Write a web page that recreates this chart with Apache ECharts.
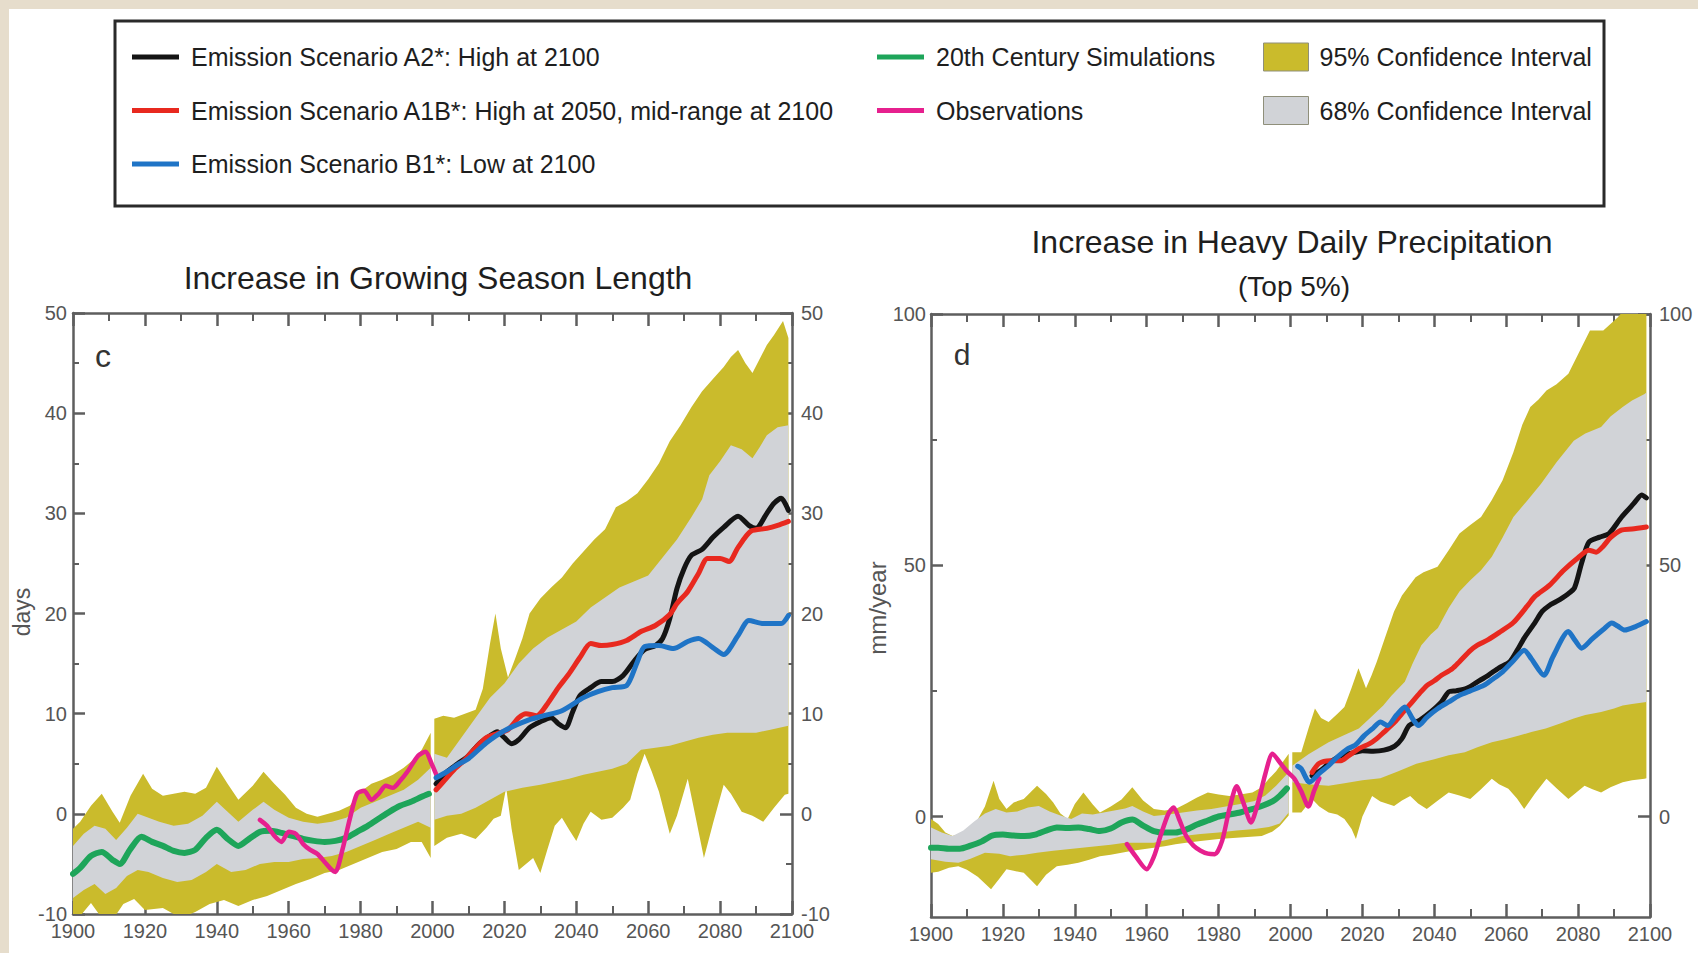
<!DOCTYPE html>
<html>
<head>
<meta charset="utf-8">
<title>Growing Season Length and Heavy Daily Precipitation</title>
<script src="https://cdn.jsdelivr.net/npm/echarts@6/dist/echarts.min.js"></script>
<style>
  html, body { margin: 0; padding: 0; background: #e6ddcc; }
  #chart { width: 1698px; height: 953px; }
</style>
</head>
<body>
<div id="chart"></div>
<script>
// ---------- Panel c: growing season length (days) ----------
const cSim20 = [[1900,-6.0],[1902,-5.4],[1905,-4.2],[1908,-3.8],[1911,-4.6],[1913,-5.0],[1916,-3.5],[1919,-2.3],[1922,-2.8],[1925,-3.2],[1928,-3.7],[1931,-3.9],[1934,-3.6],[1937,-2.4],[1940,-1.6],[1943,-2.5],[1946,-3.2],[1949,-2.5],[1952,-1.8],[1955,-1.7],[1958,-1.9],[1961,-2.2],[1964,-2.5],[1967,-2.7],[1970,-2.8],[1973,-2.7],[1976,-2.4],[1979,-1.8],[1982,-1.2],[1985,-0.5],[1988,0.2],[1991,0.8],[1994,1.2],[1997,1.7],[1999,2.0]];
const cObs = [[1952,-0.6],[1954,-1.2],[1956,-2.2],[1958,-2.8],[1960,-1.8],[1962,-2.0],[1964,-3.0],[1966,-3.6],[1968,-4.0],[1970,-4.8],[1972,-5.6],[1973,-5.8],[1975,-3.5],[1977,-0.5],[1979,2.0],[1981,2.3],[1983,1.4],[1985,2.0],[1987,2.8],[1989,2.6],[1991,3.3],[1993,4.2],[1996,5.8],[1998,6.2],[2000,4.8],[2002,3.4],[2003,3.9]];
const cA2 = [[2001,3.0],[2004,4.2],[2007,5.0],[2010,5.8],[2013,7.0],[2016,7.8],[2018,8.2],[2020,7.6],[2022,7.0],[2024,7.4],[2027,8.6],[2030,9.2],[2033,9.6],[2035,9.0],[2037,8.6],[2039,10.2],[2041,11.8],[2044,12.6],[2047,13.2],[2050,13.2],[2053,13.8],[2056,15.2],[2059,16.4],[2062,16.8],[2064,17.5],[2066,19.5],[2068,22.5],[2070,24.5],[2072,25.8],[2075,26.4],[2078,27.6],[2081,28.6],[2085,29.7],[2088,28.8],[2090,28.5],[2093,30.0],[2095,31.0],[2097,31.5],[2099,30.3]];
const cA1B = [[2001,2.4],[2003,3.2],[2006,4.4],[2009,5.4],[2012,6.6],[2015,7.6],[2018,8.0],[2021,8.4],[2024,9.6],[2026,10.0],[2029,9.8],[2032,11.0],[2035,12.6],[2038,14.0],[2041,15.6],[2044,17.0],[2047,16.8],[2050,16.9],[2054,17.3],[2058,18.2],[2062,18.8],[2066,19.9],[2068,21.0],[2071,22.2],[2074,24.0],[2076.5,25.5],[2080,25.5],[2082.5,25.2],[2085,26.6],[2088.5,28.2],[2093,28.5],[2096,28.8],[2099,29.2]];
const cB1 = [[2001,3.6],[2004,4.2],[2007,4.9],[2010,5.5],[2015,7.1],[2020,8.3],[2027,9.4],[2031,9.8],[2036,10.3],[2042,11.6],[2046,12.2],[2050,12.6],[2054,12.8],[2057,15.2],[2059,16.7],[2063,16.8],[2067,16.5],[2071,17.2],[2074,17.5],[2078,16.6],[2081,15.9],[2085,17.8],[2088,19.3],[2092,19.0],[2097,19.0],[2099,19.8]];
const c95Upper20 = [[1900,-1.5],[1902,-0.8],[1905,0.8],[1908,2.0],[1911,0.2],[1913,-0.9],[1916,1.8],[1919.5,4.0],[1922,2.5],[1925,1.8],[1928,2.0],[1931,2.2],[1934,2.0],[1937,2.6],[1940,4.7],[1943,3.0],[1946,1.4],[1950,2.8],[1953,4.2],[1956,3.0],[1959,1.9],[1962,0.6],[1965,0.0],[1968,-0.3],[1971,0.0],[1974,0.3],[1977,0.8],[1980,2.2],[1983,3.0],[1986,3.4],[1989,3.9],[1992,4.6],[1995,5.5],[1997,6.4],[1999.5,8.1]];
const c95Lower20 = [[1900,-10.5],[1902,-10.2],[1905,-8.9],[1908,-10.4],[1911,-10.6],[1914,-9.0],[1917,-8.5],[1920,-9.6],[1925,-9.4],[1930,-10.4],[1934,-9.8],[1938,-9.0],[1942,-8.6],[1946,-9.2],[1950,-8.6],[1954,-8.2],[1958,-7.6],[1962,-7.0],[1966,-6.5],[1970,-5.9],[1974,-5.6],[1978,-5.0],[1982,-4.4],[1986,-3.8],[1990,-3.5],[1994,-2.8],[1997,-2.8],[1999.5,-4.4]];
const c68Upper20 = [[1900,-3.2],[1903,-2.0],[1906,-1.2],[1909,-1.5],[1912,-2.6],[1915,-1.4],[1918,0.0],[1921,-0.4],[1924,-0.8],[1928,-1.2],[1932,-1.0],[1936,-0.2],[1940,1.2],[1943,0.2],[1946,-0.8],[1950,0.4],[1953,1.2],[1956,0.4],[1960,-0.4],[1964,-0.8],[1968,-1.0],[1972,-0.8],[1976,-0.4],[1980,0.6],[1984,1.2],[1988,1.8],[1992,2.4],[1996,3.4],[1999.5,4.6]];
const c68Lower20 = [[1900,-8.4],[1903,-7.6],[1906,-7.0],[1909,-8.0],[1912,-7.4],[1915,-6.2],[1918,-5.6],[1921,-5.8],[1925,-6.4],[1929,-6.8],[1933,-6.6],[1937,-5.8],[1940,-5.0],[1944,-5.8],[1948,-5.6],[1952,-5.0],[1956,-4.8],[1960,-4.8],[1964,-4.5],[1968,-4.4],[1972,-4.2],[1976,-3.8],[1980,-3.2],[1984,-2.6],[1988,-2.0],[1992,-1.4],[1996,-0.8],[1999.5,-1.4]];
const c95Upper21 = [[2000.5,9.5],[2003,9.8],[2006,9.6],[2009,10.0],[2012,10.4],[2014,12.5],[2016,17.0],[2017.5,20.0],[2019,16.5],[2021,13.6],[2023,15.5],[2025,17.5],[2027,20.0],[2030,21.5],[2033,22.6],[2036,23.6],[2039,25.0],[2042,26.2],[2045,27.4],[2048,28.4],[2051,30.6],[2054,31.2],[2057,32.0],[2060,33.4],[2063,35.0],[2066,37.2],[2069,38.8],[2072,40.6],[2075,42.2],[2078,43.4],[2081,44.6],[2083,45.6],[2085,46.3],[2087,45.0],[2089,44.0],[2091,45.4],[2093,46.8],[2095,47.8],[2097.5,49.2],[2099,47.5]];
const c95Lower21 = [[2000.5,-3.2],[2004,-2.4],[2008,-2.0],[2012,-2.5],[2015,-1.4],[2017,-0.5],[2019,-0.2],[2020.5,2.6],[2022,-1.5],[2024,-5.6],[2026,-5.0],[2028,-4.4],[2030,-5.9],[2032,-3.5],[2034,-1.2],[2036,-0.4],[2038,-1.6],[2040,-2.7],[2042,-1.0],[2044,0.2],[2047,-0.6],[2050,-0.4],[2053,0.6],[2055,1.4],[2057,4.0],[2059,6.0],[2061,4.2],[2063,2.2],[2066,-2.0],[2068,-0.2],[2071,3.5],[2073,0.0],[2075.5,-4.4],[2078,-1.0],[2081,2.9],[2083,2.0],[2086,0.2],[2089,-0.2],[2092,-0.8],[2095,0.6],[2098,1.9],[2099,2.0]];
const c68Upper21 = [[2000.5,6.0],[2004,5.6],[2008,7.6],[2012,9.6],[2016,11.6],[2020,13.0],[2024,15.0],[2028,16.5],[2032,17.6],[2036,18.4],[2040,19.2],[2044,20.6],[2048,21.6],[2052,22.6],[2056,23.2],[2060,23.8],[2064,25.6],[2068,27.4],[2072,29.6],[2075,31.4],[2077,33.8],[2080,35.2],[2083,36.8],[2086,36.4],[2089,35.5],[2091,36.6],[2093,37.8],[2096,38.6],[2099,38.8]];
const c68Lower21 = [[2000.5,-0.6],[2004,-0.2],[2008,0.0],[2012,0.6],[2016,1.4],[2020,2.2],[2025,2.6],[2030,2.9],[2034,3.2],[2038,3.5],[2042,3.9],[2046,4.2],[2050,4.5],[2054,5.0],[2058,6.4],[2062,6.6],[2066,6.8],[2070,7.2],[2074,7.6],[2078,7.9],[2082,8.1],[2086,8.1],[2090,8.1],[2094,8.4],[2099,8.8]];

// ---------- Panel d: heavy daily precipitation, top 5% (mm/year) ----------
const dSim20 = [[1900,-6.2],[1902,-6.2],[1905,-6.4],[1908,-6.4],[1911,-5.8],[1914,-5.0],[1917,-3.8],[1920,-3.6],[1923,-3.8],[1926,-3.9],[1929,-3.6],[1932,-2.8],[1935,-2.2],[1938,-2.3],[1941,-2.2],[1944,-2.5],[1947,-2.9],[1950,-2.4],[1953,-1.2],[1956,-0.6],[1959,-1.8],[1962,-2.9],[1965,-3.2],[1968,-3.2],[1971,-2.6],[1974,-1.6],[1977,-0.8],[1980,0.0],[1983,0.4],[1986,0.8],[1989,1.4],[1992,2.1],[1995,3.0],[1997,4.1],[1999,5.6]];
const dObs = [[1954.5,-5.5],[1957,-8.0],[1960,-10.5],[1962,-8.0],[1964,-3.5],[1966,0.5],[1967.5,1.8],[1969,-0.5],[1971,-3.9],[1973,-5.8],[1975,-6.8],[1977,-7.4],[1979,-7.5],[1981,-4.8],[1983,1.5],[1985,6.0],[1987,2.5],[1989,-1.2],[1991,2.8],[1993,8.5],[1995,12.5],[1997,10.8],[1999,9.0],[2001,7.6],[2003,5.0],[2005,2.0],[2006.5,5.0],[2008,7.6]];
const dA2 = [[2006,8.1],[2009,9.5],[2011,10.8],[2014,12.1],[2017,12.6],[2020,13.1],[2023,13.0],[2026,13.2],[2029,14.0],[2031,15.5],[2033,18.1],[2036,19.2],[2039,20.8],[2042,22.8],[2044,24.8],[2046,25.0],[2049,25.5],[2052,26.8],[2055,28.1],[2058,29.6],[2061,30.8],[2063,33.0],[2065,35.5],[2068,38.6],[2070,40.8],[2072,42.0],[2074,42.8],[2077,44.2],[2079,45.5],[2081,50.5],[2083,54.6],[2086,55.6],[2088.6,56.3],[2092,59.5],[2095.5,62.3],[2097.7,64.0],[2099,63.4]];
const dA1B = [[2006,8.8],[2008,10.6],[2011,11.1],[2014,11.1],[2016,12.0],[2019,13.5],[2022,14.5],[2024,15.5],[2026,16.8],[2029,18.8],[2031,20.5],[2033,22.1],[2036,24.6],[2038,26.1],[2040,27.0],[2042,28.1],[2045,29.4],[2047,30.8],[2050,33.0],[2052,34.1],[2055,35.2],[2058,36.6],[2062,38.6],[2066,42.0],[2068,43.8],[2072,46.0],[2076,49.0],[2080,51.5],[2083,53.0],[2085,52.6],[2087,53.8],[2089,55.5],[2092,57.0],[2095,57.2],[2099,57.6]];
const dB1 = [[2002,10.0],[2003,9.5],[2005.3,6.8],[2008,8.6],[2010.6,10.1],[2013,11.8],[2016,13.5],[2018,14.2],[2020.5,16.1],[2023,17.6],[2025,18.8],[2027,18.1],[2029.5,20.2],[2031.8,21.8],[2034,19.4],[2035.6,18.1],[2038,19.8],[2041,21.5],[2044,22.8],[2047,24.1],[2050,25.0],[2053.8,26.1],[2056,27.2],[2059,28.8],[2062,31.0],[2065,33.1],[2067,31.4],[2070.5,28.1],[2073,31.8],[2077.3,36.8],[2079,35.2],[2081,33.5],[2084,35.4],[2087,37.2],[2089.4,38.5],[2091,37.9],[2093,37.1],[2096,37.8],[2099,38.8]];
const d95Upper20 = [[1900,-0.5],[1902,-1.5],[1904,-3.2],[1906,-3.9],[1909,-3.2],[1912,-1.9],[1915,2.0],[1917.4,7.1],[1919,3.5],[1921,1.5],[1923,2.8],[1925.8,3.5],[1929.5,6.1],[1932,4.5],[1934,2.8],[1936,0.6],[1938,-0.5],[1940,2.5],[1942.4,4.8],[1945,2.4],[1947,0.8],[1950,2.0],[1953,3.4],[1956,5.8],[1959,3.2],[1962,1.5],[1965,1.2],[1968,1.5],[1971,2.6],[1974,3.8],[1977,4.8],[1980,4.4],[1983,4.1],[1986,4.4],[1989.4,4.8],[1992,5.8],[1994,7.5],[1996,9.0],[1998,11.0],[1999.5,12.5]];
const d95Lower20 = [[1900,-11.2],[1902,-11.0],[1905,-10.2],[1907.6,-9.9],[1910,-10.6],[1913,-12.0],[1916.7,-14.5],[1919,-12.4],[1921,-10.5],[1923,-10.8],[1925.8,-11.2],[1928,-12.8],[1929.5,-13.9],[1932,-11.6],[1935,-9.9],[1938,-9.6],[1941,-9.2],[1944,-8.6],[1947,-7.9],[1950,-7.6],[1953,-7.2],[1956,-6.8],[1959,-6.5],[1962,-6.2],[1965,-5.9],[1968,-5.5],[1971,-5.2],[1975,-4.9],[1980,-4.5],[1986,-4.2],[1992,-3.9],[1995,-3.0],[1997,-1.9],[1999.5,0.2]];
const d68Upper20 = [[1900,-2.2],[1903,-3.2],[1906,-3.9],[1909,-2.8],[1912,-1.0],[1915,0.6],[1918,1.5],[1921,0.8],[1924,1.0],[1927,1.8],[1930,2.1],[1933,1.0],[1936,0.2],[1939,-0.5],[1942,0.6],[1945,0.4],[1948,0.8],[1951,1.2],[1954,1.6],[1956,2.1],[1959,1.0],[1962,0.1],[1966,0.4],[1970,0.8],[1974,1.2],[1978,1.5],[1982,2.0],[1986,2.5],[1990,3.1],[1993,4.2],[1996,6.1],[1999.5,8.8]];
const d68Lower20 = [[1900,-8.5],[1904,-9.0],[1907.6,-9.2],[1911,-8.4],[1915,-7.2],[1919,-7.4],[1922,-7.9],[1926,-7.6],[1929.5,-7.2],[1934,-6.8],[1938,-6.5],[1942,-6.2],[1946,-5.9],[1950,-5.6],[1954,-5.2],[1958,-5.2],[1962,-5.2],[1966,-4.6],[1970,-3.9],[1975,-3.5],[1980,-3.2],[1985,-2.8],[1990,-2.5],[1994,-2.1],[1997,-1.4],[1999.5,0.8]];
const d95Upper21 = [[2000.5,12.8],[2003,12.8],[2005,17.5],[2006.8,21.5],[2008.5,19.6],[2010.6,18.8],[2013,20.4],[2015,21.8],[2017,25.6],[2018.9,29.5],[2021,25.5],[2022.5,28.0],[2024,30.8],[2026,35.0],[2028.8,40.8],[2031,44.0],[2034.8,47.6],[2037,48.6],[2040.9,49.7],[2044,53.0],[2047,56.3],[2050,58.0],[2053,59.6],[2056,63.0],[2059,66.9],[2062,72.5],[2064.5,78.0],[2066.7,81.5],[2069,83.0],[2071.2,84.8],[2074,86.0],[2077.3,88.1],[2080,92.0],[2083.3,96.7],[2087,96.7],[2091,99.3],[2093,101],[2099,102]];
const d95Lower21 = [[2000.5,0.8],[2003,0.8],[2006,3.5],[2008,2.0],[2010.6,0.8],[2013,0.4],[2015,-0.5],[2017,-2.5],[2018.2,-4.5],[2020,0.0],[2022.7,4.1],[2025,3.0],[2028.8,2.1],[2031,3.2],[2033.3,4.1],[2035.5,2.6],[2037.9,1.5],[2041,3.2],[2044,4.8],[2047,4.2],[2050,3.5],[2053,5.4],[2056,7.5],[2058,6.4],[2060.6,5.5],[2063,3.6],[2065,1.5],[2068,4.6],[2071.2,7.5],[2074,5.6],[2077.3,3.5],[2079.5,4.8],[2081.8,6.1],[2084,5.4],[2086.4,4.8],[2089,5.8],[2092.4,6.8],[2095,7.2],[2098.5,7.5],[2099,7.6]];
const d68Upper21 = [[2000.5,10.1],[2005,12.4],[2010.6,14.8],[2015,16.2],[2019,17.5],[2022,19.5],[2025.8,22.1],[2028,24.0],[2031.8,26.8],[2034,30.5],[2036.4,34.1],[2039,36.2],[2041,37.5],[2044,41.5],[2047,44.8],[2050,47.0],[2053,49.0],[2056,51.7],[2059,55.5],[2062,59.6],[2066,63.0],[2069.7,66.2],[2074,70.5],[2078.8,74.8],[2082,76.2],[2086.4,77.5],[2089,79.6],[2092.4,81.5],[2095,82.8],[2098.5,84.1],[2099,84.4]];
const d68Lower21 = [[2000.5,6.8],[2005,6.4],[2010.6,6.1],[2015,6.6],[2020,7.2],[2025,7.6],[2030,9.0],[2035,10.5],[2040,11.4],[2044,12.2],[2048.5,12.8],[2052,13.8],[2056,14.8],[2060,15.4],[2063.6,16.1],[2067,16.8],[2071,17.5],[2075,18.5],[2078.8,19.5],[2082,20.2],[2086.4,20.8],[2090,21.5],[2092.4,22.1],[2095,22.4],[2099,22.8]];

// ---------- Axis ticks and labels ----------
const yearTicks = [1900, 2100, 20];          // min, max, labelled step
const cDaysRange = [-10, 50, 10];             // min, max, labelled step
const dPrecipRange = [-20, 100];
const dPrecipLabels = [0, 50, 100];
const dPrecipMinor = [25, 75];

// ---------- Names ----------
const NAME_A2 = 'Emission Scenario A2*: High at 2100';
const NAME_A1B = 'Emission Scenario A1B*: High at 2050, mid-range at 2100';
const NAME_B1 = 'Emission Scenario B1*: Low at 2100';
const NAME_SIM = '20th Century Simulations';
const NAME_OBS = 'Observations';
const NAME_95 = '95% Confidence Interval';
const NAME_68 = '68% Confidence Interval';

const COLORS = {
  a2: '#141414', a1b: '#e8291f', b1: '#1f74c6', sim: '#1ea55a', obs: '#e6208e',
  ci95: '#cabb2c', ci68: '#d1d3d7'
};
const FONT = '"Liberation Sans", Arial, sans-serif';
const AXIS_COLOR = '#5e5e5e';
const LABEL_COLOR = '#555';

const chart = echarts.init(document.getElementById('chart'), null, { renderer: 'svg', width: 1698, height: 953 });

// Shaded confidence band drawn as one polygon: upper edge forward, lower edge back.
function band(name, upper, lower, color, gi, z) {
  return {
    type: 'custom', name: name, xAxisIndex: gi * 2, yAxisIndex: gi === 0 ? 0 : 2,
    clip: true, z: z, silent: true,
    itemStyle: { color: color },
    data: [upper[0]],
    renderItem: function (params, api) {
      const pts = upper.map(function (p) { return api.coord(p); })
        .concat(lower.slice().reverse().map(function (p) { return api.coord(p); }));
      return { type: 'polygon', shape: { points: pts }, style: { fill: color } };
    }
  };
}

function line(name, data, color, width, gi, z) {
  return {
    type: 'line', name: name, data: data, xAxisIndex: gi * 2, yAxisIndex: gi === 0 ? 0 : 2,
    showSymbol: false, smooth: 0.25, silent: true, z: z,
    itemStyle: { color: color },
    lineStyle: { color: color, width: width, cap: 'round', join: 'round' }
  };
}

const plainNumber = function (v) { return String(v); };

function xAxes(gi) {
  const common = {
    type: 'value', gridIndex: gi, min: yearTicks[0], max: yearTicks[1], interval: yearTicks[2],
    splitLine: { show: false },
    axisLine: { onZero: false, lineStyle: { color: AXIS_COLOR, width: 2.5 } },
    axisTick: { inside: true, length: 13, lineStyle: { color: AXIS_COLOR, width: 2.5 } },
    minorTick: { show: true, splitNumber: 2, length: 8, lineStyle: { color: AXIS_COLOR, width: 2 } }
  };
  return [
    Object.assign({}, common, {
      position: 'bottom',
      axisLabel: { margin: 7, color: LABEL_COLOR, fontFamily: FONT, fontSize: 20, formatter: plainNumber }
    }),
    Object.assign({}, common, { position: 'top', axisLabel: { show: false } })
  ];
}

const yLineStyle = { color: AXIS_COLOR, width: 2.5 };
const yLabel = { color: LABEL_COLOR, fontFamily: FONT, fontSize: 20, formatter: plainNumber };
const yAxes = [
  // panel c, left and right
  {
    type: 'value', gridIndex: 0, position: 'left', min: cDaysRange[0], max: cDaysRange[1], interval: cDaysRange[2],
    splitLine: { show: false }, axisLine: { onZero: false, lineStyle: yLineStyle },
    axisTick: { inside: true, length: 12, lineStyle: yLineStyle },
    minorTick: { show: true, splitNumber: 2, length: 6, lineStyle: { color: AXIS_COLOR, width: 2 } },
    axisLabel: Object.assign({ margin: 6 }, yLabel)
  },
  {
    type: 'value', gridIndex: 0, position: 'right', min: cDaysRange[0], max: cDaysRange[1], interval: cDaysRange[2],
    splitLine: { show: false }, axisLine: { onZero: false, lineStyle: yLineStyle },
    axisTick: { inside: true, length: 12, lineStyle: yLineStyle },
    minorTick: { show: true, splitNumber: 2, length: 6, lineStyle: { color: AXIS_COLOR, width: 2 } },
    axisLabel: Object.assign({ margin: 9 }, yLabel)
  },
  // panel d, left and right
  {
    type: 'value', gridIndex: 1, position: 'left', min: dPrecipRange[0], max: dPrecipRange[1],
    splitLine: { show: false }, axisLine: { onZero: false, lineStyle: yLineStyle },
    axisTick: { inside: true, length: 12, lineStyle: yLineStyle, customValues: dPrecipLabels },
    axisLabel: Object.assign({ margin: 5, customValues: dPrecipLabels }, yLabel)
  },
  {
    type: 'value', gridIndex: 1, position: 'right', min: dPrecipRange[0], max: dPrecipRange[1],
    splitLine: { show: false }, axisLine: { onZero: false, lineStyle: yLineStyle },
    axisTick: { inside: true, length: 12, lineStyle: yLineStyle, customValues: dPrecipLabels },
    axisLabel: Object.assign({ margin: 9, customValues: dPrecipLabels }, yLabel)
  },
  // panel d, short ticks between the labelled ones
  {
    type: 'value', gridIndex: 1, position: 'left', min: dPrecipRange[0], max: dPrecipRange[1],
    splitLine: { show: false }, axisLine: { show: false, onZero: false }, axisLabel: { show: false },
    axisTick: { inside: true, length: 6, lineStyle: { color: AXIS_COLOR, width: 2 }, customValues: dPrecipMinor }
  },
  {
    type: 'value', gridIndex: 1, position: 'right', min: dPrecipRange[0], max: dPrecipRange[1],
    splitLine: { show: false }, axisLine: { show: false, onZero: false }, axisLabel: { show: false },
    axisTick: { inside: true, length: 6, lineStyle: { color: AXIS_COLOR, width: 2 }, customValues: dPrecipMinor }
  }
];

const legendText = { fontFamily: FONT, fontSize: 25, color: '#1e1e1e', lineHeight: 30, padding: [0, 0, 0, 7] };

const option = {
  backgroundColor: '#e6ddcc',
  animation: false,
  grid: [
    { left: 73, top: 313, width: 719, height: 601 },
    { left: 931, top: 314, width: 719, height: 603 }
  ],
  xAxis: xAxes(0).concat(xAxes(1)),
  yAxis: yAxes,
  legend: [
    {
      left: 132, top: 42, padding: 0, orient: 'vertical', itemWidth: 47, itemHeight: 5, itemGap: 23.5,
      selectedMode: false, textStyle: legendText,
      data: [{ name: NAME_A2, icon: 'rect' }, { name: NAME_A1B, icon: 'rect' }, { name: NAME_B1, icon: 'rect' }]
    },
    {
      left: 877, top: 42, padding: 0, orient: 'vertical', itemWidth: 47, itemHeight: 5, itemGap: 23.5,
      selectedMode: false, textStyle: legendText,
      data: [{ name: NAME_SIM, icon: 'rect' }, { name: NAME_OBS, icon: 'rect' }]
    },
    {
      left: 1263, top: 42, padding: 0, orient: 'vertical', itemWidth: 45, itemHeight: 28, itemGap: 23.5,
      selectedMode: false, textStyle: Object.assign({}, legendText, { padding: [0, 0, 0, 6] }),
      itemStyle: { borderColor: '#8f8f7a', borderWidth: 1 },
      data: [{ name: NAME_95, icon: 'rect' }, { name: NAME_68, icon: 'rect' }]
    }
  ],
  graphic: [
    { type: 'rect', z: -10, silent: true, shape: { x: 9, y: 9, width: 1689, height: 944 }, style: { fill: '#ffffff' } },
    { type: 'rect', z: 5, silent: true, shape: { x: 115, y: 21, width: 1489, height: 185 },
      style: { fill: 'none', stroke: '#2a2a2a', lineWidth: 3 } },
    { type: 'text', z: 5, silent: true, x: 438, y: 278,
      style: { text: 'Increase in Growing Season Length', fontFamily: FONT, fontSize: 32, fill: '#1e1e1e',
        textAlign: 'center', textVerticalAlign: 'middle' } },
    { type: 'text', z: 5, silent: true, x: 1292, y: 242,
      style: { text: 'Increase in Heavy Daily Precipitation', fontFamily: FONT, fontSize: 32, fill: '#1e1e1e',
        textAlign: 'center', textVerticalAlign: 'middle' } },
    { type: 'text', z: 5, silent: true, x: 1294, y: 286,
      style: { text: '(Top 5%)', fontFamily: FONT, fontSize: 28, fill: '#1e1e1e',
        textAlign: 'center', textVerticalAlign: 'middle' } },
    { type: 'text', z: 5, silent: true, x: 103, y: 356,
      style: { text: 'c', fontFamily: FONT, fontSize: 32, fill: '#333',
        textAlign: 'center', textVerticalAlign: 'middle' } },
    { type: 'text', z: 5, silent: true, x: 962, y: 354,
      style: { text: 'd', fontFamily: FONT, fontSize: 30, fill: '#333',
        textAlign: 'center', textVerticalAlign: 'middle' } },
    { type: 'text', z: 5, silent: true, x: 22, y: 612, rotation: Math.PI / 2,
      style: { text: 'days', fontFamily: FONT, fontSize: 23, fill: LABEL_COLOR,
        textAlign: 'center', textVerticalAlign: 'middle' } },
    { type: 'text', z: 5, silent: true, x: 877, y: 608, rotation: Math.PI / 2,
      style: { text: 'mm/year', fontFamily: FONT, fontSize: 24, fill: LABEL_COLOR,
        textAlign: 'center', textVerticalAlign: 'middle' } }
  ],
  series: [
    // panel c
    band(NAME_95, c95Upper20, c95Lower20, COLORS.ci95, 0, 1),
    band(NAME_95, c95Upper21, c95Lower21, COLORS.ci95, 0, 1),
    band(NAME_68, c68Upper20, c68Lower20, COLORS.ci68, 0, 2),
    band(NAME_68, c68Upper21, c68Lower21, COLORS.ci68, 0, 2),
    line(NAME_SIM, cSim20, COLORS.sim, 6, 0, 3),
    line(NAME_OBS, cObs, COLORS.obs, 4.5, 0, 4),
    line(NAME_A2, cA2, COLORS.a2, 5, 0, 5),
    line(NAME_A1B, cA1B, COLORS.a1b, 5, 0, 6),
    line(NAME_B1, cB1, COLORS.b1, 5, 0, 7),
    // panel d
    band(NAME_95, d95Upper20, d95Lower20, COLORS.ci95, 1, 1),
    band(NAME_95, d95Upper21, d95Lower21, COLORS.ci95, 1, 1),
    band(NAME_68, d68Upper20, d68Lower20, COLORS.ci68, 1, 2),
    band(NAME_68, d68Upper21, d68Lower21, COLORS.ci68, 1, 2),
    line(NAME_SIM, dSim20, COLORS.sim, 6, 1, 3),
    line(NAME_OBS, dObs, COLORS.obs, 4.5, 1, 4),
    line(NAME_A2, dA2, COLORS.a2, 5, 1, 5),
    line(NAME_A1B, dA1B, COLORS.a1b, 5, 1, 6),
    line(NAME_B1, dB1, COLORS.b1, 5, 1, 7)
  ]
};

chart.setOption(option);
</script>
</body>
</html>
